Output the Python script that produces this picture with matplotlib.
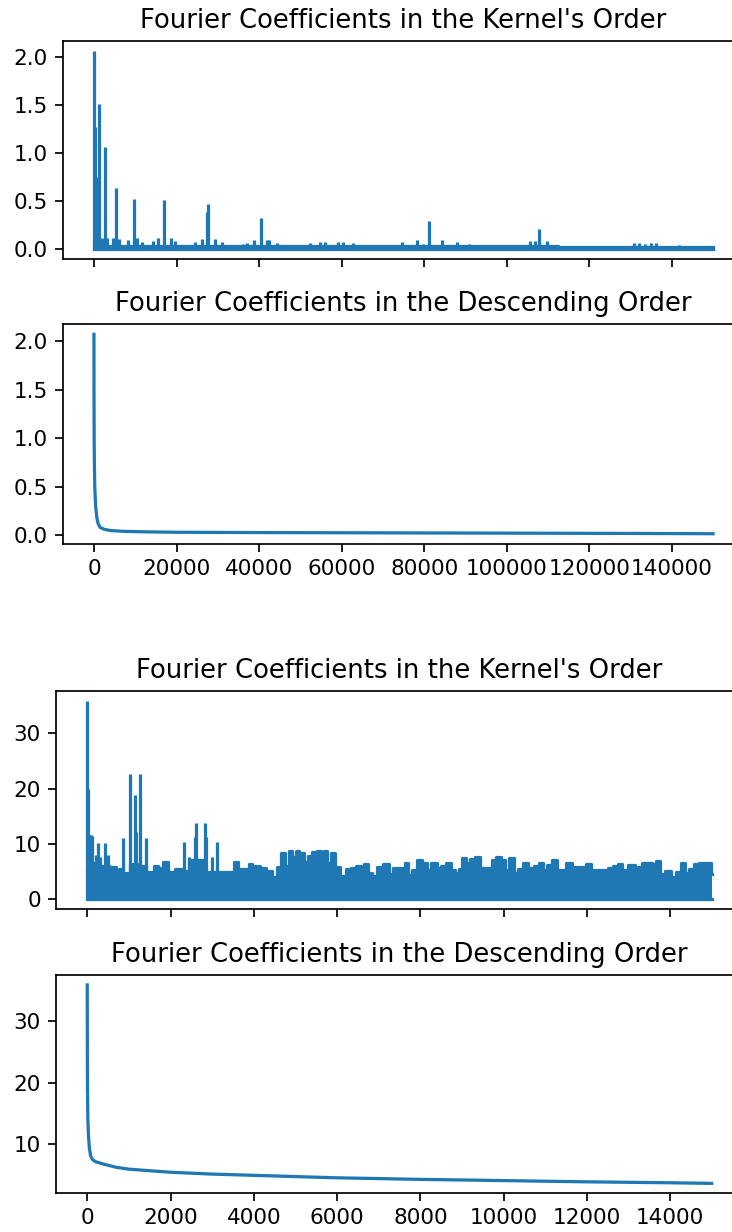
import matplotlib

matplotlib.use("Agg")
import matplotlib.pyplot as plt

DPI = 155
W, H = 732, 1232

title_kernel = "Fourier Coefficients in the Kernel's Order"
title_desc = "Fourier Coefficients in the Descending Order"

# --- first signal (150000 coefficients) ---
n_a = 150000
spike_a_x = [0, 240, 650, 1140, 1860, 2670, 3070, 4690, 5330, 6140, 8320, 9620, 10500, 11560,
             14380, 15430, 16970, 18660, 19630, 24480, 26100, 27300, 27710, 29330, 30950,
             36040, 37010, 38780, 40530, 42010, 42500, 44280, 45490, 52360, 54780, 55990,
             59220, 60430, 62700, 71740, 74590, 78220, 79830, 81290, 84290, 87930, 90910,
             105700, 106900, 107950, 109880, 130730, 131940, 133560, 135020, 136150, 141630]
spike_a_y = [2.07, 1.27, 0.75, 1.51, 0.12, 1.07, 0.12, 0.12, 0.64, 0.11, 0.10, 0.52, 0.12, 0.08,
             0.09, 0.12, 0.51, 0.12, 0.09, 0.08, 0.11, 0.39, 0.47, 0.11, 0.08,
             0.06, 0.07, 0.10, 0.33, 0.10, 0.10, 0.07, 0.05, 0.07, 0.08, 0.08,
             0.08, 0.08, 0.07, 0.05, 0.075, 0.10, 0.06, 0.30, 0.10, 0.08, 0.06,
             0.09, 0.085, 0.21, 0.09, 0.07, 0.07, 0.06, 0.07, 0.07, 0.05]
band_a_x = [0, 75000, 149999]
band_a_y = [0.032, 0.030, 0.028]

desc_a_x = [0, 10, 50, 100, 200, 400, 700, 1000, 1500, 2500, 4000, 7000, 12000, 20000,
            40000, 70000, 100000, 130000, 149999]
desc_a_y = [2.07, 1.5, 1.0, 0.75, 0.5, 0.3, 0.18, 0.12, 0.08, 0.06, 0.048, 0.04, 0.035, 0.03,
            0.027, 0.024, 0.021, 0.018, 0.015]

# --- second signal (15000 coefficients) ---
n_b = 15000
spike_b_x = [0, 15, 60, 90, 120, 200, 255, 300, 430, 500, 860, 1017, 1137, 1180, 1274, 1418,
             2315, 2443, 2580, 2620, 2836, 2860, 3005, 3125]
spike_b_y = [35.8, 20.0, 11.6, 11.6, 11.4, 8.0, 10.1, 7.7, 10.1, 8.0, 11.0, 22.7, 18.9, 12.2,
             22.7, 11.0, 10.4, 7.7, 11.3, 13.7, 13.7, 11.3, 7.7, 10.4]
band_b_x = [0, 150, 300, 450, 580, 660, 740, 800, 940, 1100, 1300, 1500, 1560, 1658, 1750,
            1882, 2000, 2200, 2400, 2500, 2700, 2950, 3050, 3200, 3400, 3500, 3565, 3660,
            3850, 3920, 3990, 4060, 4220, 4380, 4500, 4620, 4700, 4790, 4880, 4960, 5050,
            5140, 5260, 5360, 5460, 5570, 5650, 5730, 5810, 5890, 6000, 6145, 6290, 6400,
            6530, 6600, 6690, 6800, 6900, 7030, 7190, 7300, 7390, 7500, 7580, 7670, 7750,
            7830, 7990, 8100, 8200, 8330, 8450, 8550, 8690, 8800, 8880, 8960, 9046, 9150,
            9250, 9366, 9500, 9650, 9780, 9870, 10000, 10060, 10190, 10300, 10400, 10540,
            10650, 10800, 10910, 11000, 11100, 11230, 11350, 11430, 11580, 11710, 11910,
            12030, 12150, 12450, 12580, 12680, 12810, 12900, 13080, 13250, 13400, 13520,
            13600, 13720, 13800, 13950, 14100, 14200, 14320, 14400, 14520, 14620, 14760,
            14960, 14999]
band_b_y = [5.5, 6.5, 6.0, 6.0, 5.9, 5.9, 4.7, 5.5, 4.7, 6.4, 6.0, 5.0, 5.0, 6.0, 5.6,
            6.8, 5.0, 5.4, 5.2, 7.1, 7.1, 5.0, 5.0, 5.0, 5.0, 5.0, 6.8, 5.4,
            5.4, 6.4, 5.2, 6.0, 5.6, 5.2, 4.1, 5.8, 8.4, 6.0, 8.7, 7.7, 8.7,
            8.4, 6.8, 7.8, 8.5, 8.7, 7.8, 8.7, 6.5, 8.4, 5.8, 4.3, 5.4, 5.6,
            6.0, 4.9, 6.4, 4.7, 4.3, 5.8, 6.3, 4.5, 5.6, 5.6, 5.6, 6.6, 4.4,
            5.3, 7.1, 6.5, 5.3, 6.5, 5.6, 6.0, 6.6, 5.3, 4.7, 5.4, 7.4, 6.6,
            7.2, 7.7, 5.6, 5.6, 7.1, 7.7, 7.1, 5.3, 7.4, 4.8, 5.4, 6.6,
            5.6, 6.0, 6.5, 5.3, 6.2, 7.1, 5.3, 5.3, 6.6, 5.8, 5.8,
            6.3, 5.3, 5.3, 5.6, 6.0, 6.3, 5.3, 6.2, 5.9, 6.6, 6.6,
            6.3, 6.9, 4.6, 5.1, 4.1, 5.0, 6.5, 4.7, 5.5, 6.3, 6.6,
            6.6, 4.6]

desc_b_x = [0, 5, 15, 30, 50, 80, 120, 200, 400, 700, 1000, 2000, 3000, 4000, 6000, 8000,
            10000, 12000, 14000, 14999]
desc_b_y = [35.8, 20, 14, 11.5, 9.5, 8.2, 7.6, 7.2, 6.8, 6.3, 6.0, 5.5, 5.2, 5.0, 4.6, 4.35,
            4.15, 3.95, 3.8, 3.7]


def px_rect(left, right, top, bottom):
    return [left / W, 1 - bottom / H, (right - left) / W, (bottom - top) / H]


def draw_kernel(ax, n, sx, sy, bx, by, top):
    # dense band of small coefficients, then the isolated peaks on top
    ax.fill_between(bx, 0, by, color="C0", lw=0, step="mid")
    ax.plot(bx, by, color="C0", drawstyle="steps-mid")
    ax.plot([bx[0], bx[-1]], [0, 0], color="C0")
    ax.vlines(sx, 0, sy, color="C0")
    ax.set_xlim(-0.05 * n, 1.05 * n)
    ax.set_ylim(-0.05 * top, 1.05 * top)
    ax.set_title(title_kernel)


def draw_desc(ax, n, dx, dy):
    ax.plot(dx, dy, color="C0")
    ax.set_xlim(-0.05 * n, 1.05 * n)
    ax.set_title(title_desc)


fig = plt.figure(figsize=(W / DPI, H / DPI), dpi=DPI)

ax1 = fig.add_axes(px_rect(63, 744, 40.7, 259.3))
ax2 = fig.add_axes(px_rect(63, 744, 324.3, 543.7), sharex=ax1)
ax3 = fig.add_axes(px_rect(56, 743, 691, 909.3))
ax4 = fig.add_axes(px_rect(56, 743, 975, 1193.3), sharex=ax3)

draw_kernel(ax1, n_a, spike_a_x, spike_a_y, band_a_x, band_a_y, max(spike_a_y))
draw_desc(ax2, n_a, desc_a_x, desc_a_y)
draw_kernel(ax3, n_b, spike_b_x, spike_b_y, band_b_x, band_b_y, max(spike_b_y))
draw_desc(ax4, n_b, desc_b_x, desc_b_y)

ax1.tick_params(labelbottom=False)
ax3.tick_params(labelbottom=False)
ax1.set_yticks([0.0, 0.5, 1.0, 1.5, 2.0])
ax2.set_yticks([0.0, 0.5, 1.0, 1.5, 2.0])
ax2.set_xticks(range(0, 140001, 20000))
ax4.set_xticks(range(0, 14001, 2000))

fig.savefig("out.png", dpi=DPI)
